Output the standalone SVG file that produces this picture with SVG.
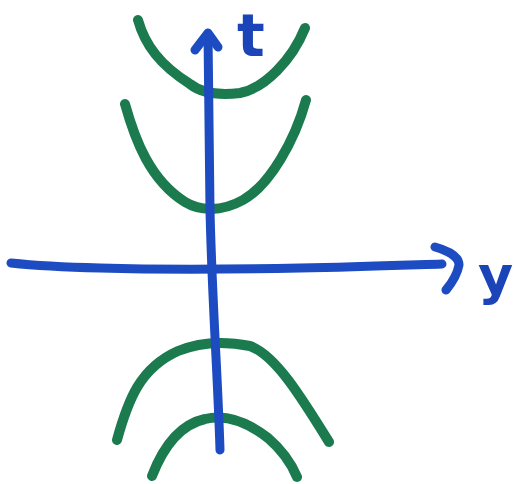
<svg xmlns="http://www.w3.org/2000/svg" width="516" height="484" viewBox="0 0 516 484">
<style>
.g{fill:none;stroke:#1b7a4e;stroke-width:10;stroke-linecap:round;stroke-linejoin:round}
.b{fill:none;stroke:#1d4cc2;stroke-width:9;stroke-linecap:round;stroke-linejoin:round}
.lbl{fill:#1a44b8;font-family:"DejaVu Sans",sans-serif;font-weight:bold}
</style>
<rect width="516" height="484" fill="#ffffff"/>
<g id="curves">
<path id="curve-top1" class="g" d="M138,20 C145,45 160,65 190,84 C200,92 215,96 240,93 C265,88 292,60 305,28"/>
<path id="curve-top2" class="g" d="M125,104 C135,140 150,180 185,202 C198,210 220,213 243,200 C270,185 295,140 306,100"/>
<path id="curve-bot1" class="g" d="M117,440 C128,400 140,368 178,351 C195,344 220,340 250,346 C275,355 300,395 329,442"/>
<path id="curve-bot2" class="g" d="M152,476 C162,450 178,425 205,419 C225,414 245,420 268,438 C282,450 292,465 297,477"/>
</g>
<g id="connectors">
<path id="axis-t" class="b" d="M220,450 C218,380 212,300 210,210 C209,140 208,80 208,34"/>
<path id="axis-t-head" class="b" d="M195,50 L208,33 L218,47"/>
<path id="axis-y" class="b" d="M11,263 C30,265 60,267 100,268 C170,270 250,269 300,268 C360,267 410,265 442,264"/>
<path id="axis-y-head" class="b" d="M435,247 C446,250 459,256 459,265 C457,276 451,284 446,290"/>
</g>
<g id="labels">
<text id="label-t" class="lbl" x="237" y="56" font-size="58">t</text>
<text id="label-y" class="lbl" x="478" y="294" font-size="54">y</text>
</g>
</svg>
